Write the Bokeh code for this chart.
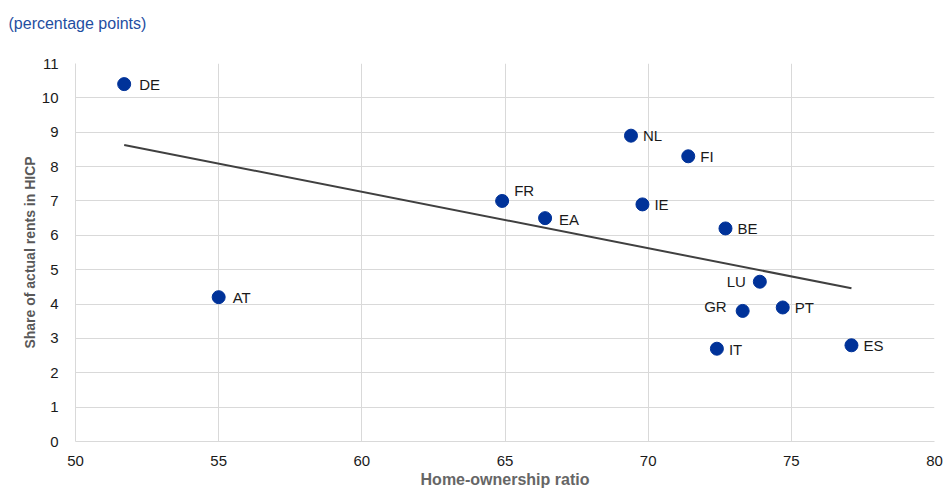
import numpy as np
from bokeh.plotting import figure
from bokeh.models import ColumnDataSource, FixedTicker
from bokeh.core.properties import value
from bokeh.embed import file_html
from bokeh.resources import INLINE

# ---- data ----
countries = ["DE", "AT", "FR", "EA", "NL", "IE", "FI", "BE", "LU", "GR", "PT", "IT", "ES"]
home_ownership = [51.7, 55.0, 64.9, 66.4, 69.4, 69.8, 71.4, 72.7, 73.9, 73.3, 74.7, 72.4, 77.1]
rent_share = [10.4, 4.2, 7.0, 6.5, 8.9, 6.9, 8.3, 6.2, 4.65, 3.8, 3.9, 2.7, 2.8]
x_ticks = [50, 55, 60, 65, 70, 75, 80]
y_ticks = [0, 1, 2, 3, 4, 5, 6, 7, 8, 9, 10, 11]

# ---- label placement (style) ----
label_dx = {"DE": 15, "AT": 14, "FR": 12, "EA": 14, "NL": 12, "IE": 12, "FI": 12, "BE": 12,
            "LU": -14, "GR": -16, "PT": 12, "IT": 12, "ES": 12}
label_dy = {"FR": -10, "GR": -4, "EA": 1, "IT": 1}

FONT = "Liberation Sans"
BLUE = "#003299"
GRID = "#d9d9d9"
W, H = 945, 491
LEFT, TOP, BOTTOM = 75, 63, 50

p = figure(width=W, height=H, output_backend="svg", toolbar_location=None,
           x_range=(50, 80), y_range=(0, 11),
           min_border_left=LEFT, min_border_right=11, min_border_top=TOP, min_border_bottom=BOTTOM)

# trailing newline reserves an empty line so the subtitle sits at the top of the canvas
p.title.text = "(percentage points)\n"
p.title.text_font = FONT
p.title.text_font_size = "16px"
p.title.text_font_style = "normal"
p.title.text_color = "#1f4ea1"
p.title.align = "left"
p.title.vertical_align = "top"
p.title.offset = 8 - LEFT
p.title.standoff = 25

# trend line (OLS over the countries, excluding euro area aggregate)
cx = np.array([x for c, x in zip(countries, home_ownership) if c != "EA"])
cy = np.array([y for c, y in zip(countries, rent_share) if c != "EA"])
slope, intercept = np.polyfit(cx, cy, 1)
tx = np.array([cx.min(), cx.max()])
p.line(tx, slope * tx + intercept, line_color="#404040", line_width=2)

src = ColumnDataSource(dict(
    x=home_ownership, y=rent_share, label=countries,
    dx=[label_dx.get(c, 12) for c in countries],
    dy=[label_dy.get(c, 0) for c in countries],
    align=["right" if label_dx.get(c, 12) < 0 else "left" for c in countries],
))
p.scatter("x", "y", source=src, size=13, fill_color=BLUE, line_color=BLUE)
p.text("x", "y", text="label", source=src, x_offset="dx", y_offset="dy",
       text_align="align", text_baseline="middle", text_font=value(FONT),
       text_font_size="15px", text_color="#1a1a1a")

p.xaxis.ticker = FixedTicker(ticks=x_ticks)
p.yaxis.ticker = FixedTicker(ticks=y_ticks)
p.xgrid.ticker = FixedTicker(ticks=x_ticks)
p.ygrid.ticker = FixedTicker(ticks=y_ticks)
p.grid.grid_line_color = GRID
p.grid.grid_line_width = 1
p.outline_line_color = None

for ax in (p.xaxis, p.yaxis):
    ax.axis_line_color = GRID
    ax.major_tick_line_color = None
    ax.minor_tick_line_color = None
    ax.major_label_text_font = FONT
    ax.major_label_text_font_size = "15px"
    ax.major_label_text_color = "#1a1a1a"
    ax.axis_label_text_font = FONT
    ax.axis_label_text_font_size = "14px"
    ax.axis_label_text_font_style = "bold"
    ax.axis_label_text_color = "#595959"

p.xaxis.axis_label = "Home-ownership ratio"
p.xaxis.axis_label_text_font_size = "16px"
p.xaxis.axis_label_text_color = "#666666"
p.yaxis.axis_label = "Share of actual rents in HICP"
p.xaxis.major_label_standoff = 8
p.yaxis.major_label_standoff = 11
p.xaxis.axis_label_standoff = 2
p.yaxis.axis_label_standoff = 1

open("out.html", "w").write(file_html(p, INLINE))
